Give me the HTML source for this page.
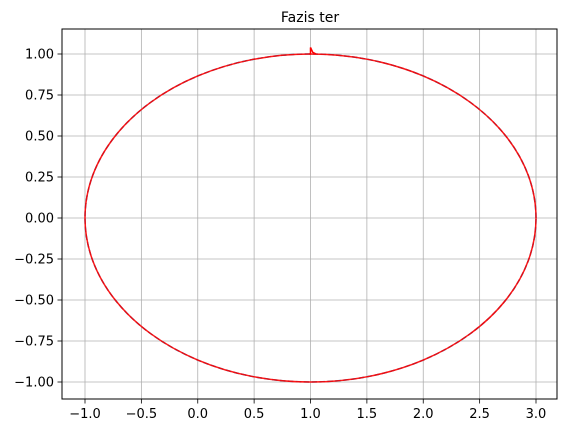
<!DOCTYPE html>
<html><head><meta charset="utf-8"><style>
body{margin:0;background:#fff}
svg{display:block;font-family:"DejaVu Sans","Liberation Sans",sans-serif}
</style></head><body>
<svg id="chart" width="568" height="433" viewBox="0 0 568 433" xmlns="http://www.w3.org/2000/svg">
<rect width="568" height="433" fill="#fff"/>
<g id="grid"></g>
<g id="series"></g>
<rect x="62" y="29" width="495" height="370" fill="none" stroke="#000" stroke-width="1"/>
<g id="ticks"></g>
<text x="310" y="22" font-size="14" text-anchor="middle">Fazis ter</text>
</svg>
<script>
const xTicks=[-1.0,-0.5,0.0,0.5,1.0,1.5,2.0,2.5,3.0];
const xTickLabels=["\u22121.0","\u22120.5","0.0","0.5","1.0","1.5","2.0","2.5","3.0"];
const yTicks=[1.0,0.75,0.5,0.25,0,-0.25,-0.5,-0.75,-1.0];
const yTickLabels=["1.00","0.75","0.50","0.25","0.00","\u22120.25","\u22120.50","\u22120.75","\u22121.00"];
const xs=[3,2.932,2.732,2.414,2,1.518,1,0.482,0,-0.414,-0.732,-0.932,-1,-0.932,-0.732,-0.414,0,0.482,1,1.518,2,2.414,2.732,2.932,3];
const ys=[0,0.259,0.5,0.707,0.866,0.966,1,0.966,0.866,0.707,0.5,0.259,0,-0.259,-0.5,-0.707,-0.866,-0.966,-1,-0.966,-0.866,-0.707,-0.5,-0.259,0];
const blipX=[0.99,1.0,1.0,1.02,1.05];
const blipY=[1.0,1.0,1.04,1.01,1.0];
const X=v=>85+(v+1)*112.75;
const Y=v=>54+(1-v)*164;
const NS="http://www.w3.org/2000/svg";
const grid=document.getElementById('grid'),ticks=document.getElementById('ticks'),series=document.getElementById('series');
function mk(tag,attrs,parent){const e=document.createElementNS(NS,tag);for(const k in attrs)e.setAttribute(k,attrs[k]);parent.appendChild(e);return e;}
xTicks.forEach((t,i)=>{const px=X(t);
 const g=mk('line',{x1:px,x2:px,y1:29,y2:399,stroke:'#b0b0b0','stroke-width':0.8},grid);
 
 
 const tk=mk('line',{x1:px,x2:px,y1:399,y2:403.5,stroke:'#000','stroke-width':0.8},ticks);
 
 
 const tx=mk('text',{x:px,y:418,'font-size':13,'text-anchor':'middle'},ticks);tx.textContent=xTickLabels[i];
 
 
});
yTicks.forEach((t,i)=>{const py=Y(t);
 const g=mk('line',{x1:62,x2:557,y1:py,y2:py,stroke:'#b0b0b0','stroke-width':0.8},grid);
 
 
 const tk=mk('line',{x1:57.5,x2:62,y1:py,y2:py,stroke:'#000','stroke-width':0.8},ticks);
 
 
 const tx=mk('text',{x:54,y:py+4.5,'font-size':13,'text-anchor':'end'},ticks);tx.textContent=yTickLabels[i];
 
 
});
function spline(xa,ya){const p=xa.map((v,i)=>[X(v),Y(ya[i])]);const n=p.length-1;let d='M'+p[0][0]+','+p[0][1];
 for(let i=0;i<n;i++){const p0=p[i===0?n-1:i-1],p1=p[i],p2=p[i+1],p3=p[i+2>n?1:i+2];
  d+=` C${p1[0]+(p2[0]-p0[0])/6},${p1[1]+(p2[1]-p0[1])/6} ${p2[0]-(p3[0]-p1[0])/6},${p2[1]-(p3[1]-p1[1])/6} ${p2[0]},${p2[1]}`;}
 return d;}
const d=spline(xs,ys);
const blue=mk('path',{d:d,fill:'none',stroke:'#1f77b4','stroke-width':1.5,'stroke-dasharray':'5.5,2.4'},series);


const red=mk('path',{d:d,fill:'none',stroke:'#ff0000','stroke-width':1.5,'stroke-opacity':0.9},series);


const blip=mk('polyline',{points:blipX.map((v,i)=>X(v)+','+Y(blipY[i])).join(' '),fill:'none',stroke:'#ff0000','stroke-width':1.5},series);


</script>
</body></html>
